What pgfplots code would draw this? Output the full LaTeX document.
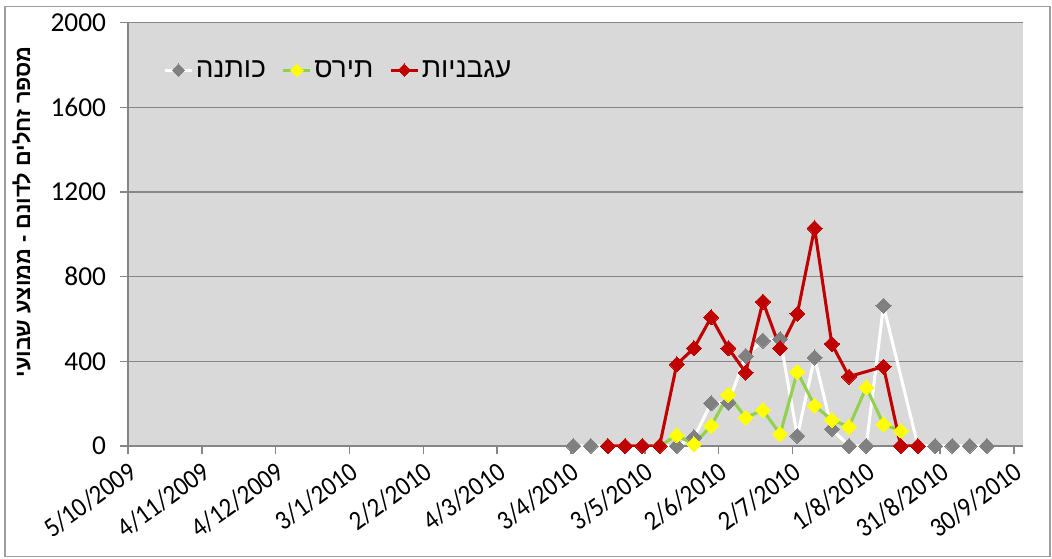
\documentclass[border=0pt]{standalone}
\usepackage{fontspec}
\setmainfont{Carlito}
\newfontfamily\tickfont[FakeStretch=0.9]{Carlito}
\newfontfamily\hebfont[Script=Hebrew]{Liberation Sans}
\newfontfamily\hebbold[Script=Hebrew]{Liberation Sans Bold}
\TeXXeTstate=1
\usepackage{pgfplots}
\pgfplotsset{compat=1.18}
\definecolor{plotbg}{HTML}{D9D9D9}
\definecolor{gridc}{HTML}{868686}
\definecolor{cotton}{HTML}{808080}
\definecolor{cornline}{HTML}{92D050}
\definecolor{cornmark}{HTML}{FFFF00}
\definecolor{tomato}{HTML}{C00000}
\begin{document}
\begin{tikzpicture}
\useasboundingbox (0,0) rectangle (789pt,-419.25pt);
\draw[color=gridc!80, line width=1.2pt] (3.75pt,-4.9pt) rectangle (787.5pt,-417.4pt);
\begin{axis}[
  at={(96pt,-334.5pt)}, anchor=south west,
  scale only axis, width=671.25pt, height=317.5pt,
  xmin=0, xmax=363.7, ymin=0, ymax=2000,
  axis background/.style={fill=plotbg},
  axis x line*=bottom, axis y line*=left,
  axis line style={gridc, line width=1.1pt},
  tick align=outside, major tick length=6pt,
  tick style={gridc, line width=1.1pt},
  xtick={0,30,...,360},
  xticklabels={5/10/2009,4/11/2009,4/12/2009,3/1/2010,2/2/2010,4/3/2010,3/4/2010,3/5/2010,2/6/2010,2/7/2010,1/8/2010,31/8/2010,30/9/2010},
  xticklabel style={rotate=36, anchor=north east, font=\tickfont\fontsize{20.5}{24}\selectfont},
  ytick={0,400,...,2000},
  ymajorgrids, grid style={gridc, line width=1.1pt},
  yticklabel style={font=\fontsize{20.5}{24}\selectfont, /pgf/number format/1000 sep={}, xshift=-7pt},
  /pgf/number format/assume math mode=true,
  every axis y label/.style={at={(axis description cs:-0.119,0.553)}, rotate=90, anchor=center},
  ylabel={\hebbold\fontsize{16.3}{19}\selectfont\beginR מספר זחלים לדונם - ממוצע שבועי\endR},
  legend style={at={(axis description cs:0.035,0.888)}, anchor=west, draw=none, fill=none,
    font=\hebfont\fontsize{21}{24}\selectfont,
    /tikz/every even column/.append style={column sep=10pt}},
  legend columns=3,
  legend image code/.code={\draw[mark repeat=2,mark phase=2,#1, mark size=3.3pt] plot coordinates {(0pt,0pt) (10pt,0pt) (20pt,0pt)};},
]
\addplot[white, line width=2.3pt, mark=square*, mark size=4pt,
  mark options={rotate=45, fill=cotton, draw=cotton, line width=0pt}] table {
x y
181 0
188 0
195 0
202 0
209 0
216 0
223 0
230 40
237 202
244 205
251 425
258 498
265 505
272 47
279 418
286 80
293 0
300 0
307 662
321 0
328 0
335 0
342 0
349 0
};
\addlegendentry{\beginR כותנה\endR}
\addplot[cornline, line width=2.3pt, mark=square*, mark size=4pt,
  mark options={rotate=45, fill=cornmark, draw=cornmark, line width=0pt}] table {
x y
216 0
223 50
230 8
237 96
244 241
251 134
258 170
265 56
272 350
279 191
286 123
293 91
300 277
307 103
314 71
};
\addlegendentry{\beginR תירס\endR}
\addplot[tomato, line width=2.3pt, mark=square*, mark size=4pt,
  mark options={rotate=45, fill=tomato, draw=tomato, line width=0pt}] table {
x y
195 0
202 0
209 0
216 0
223 386
230 462
237 608
244 462
251 347
258 682
265 462
272 625
279 1029
286 482
293 328
307 375
314 0
321 0
};
\addlegendentry{\beginR עגבניות\endR}
\end{axis}
\end{tikzpicture}
\end{document}
